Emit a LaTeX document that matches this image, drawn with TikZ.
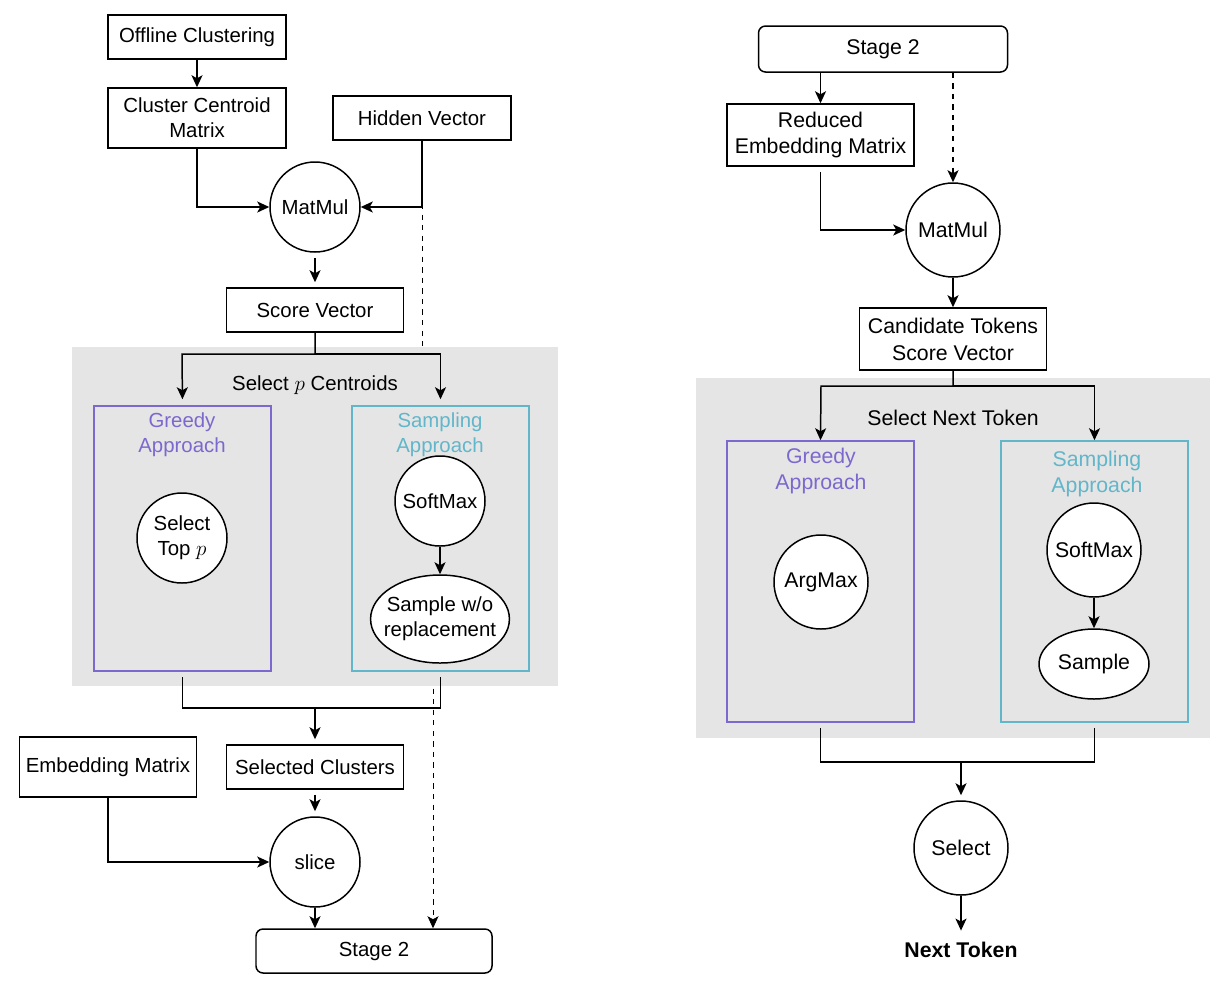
\documentclass[tikz,border=0pt]{standalone}
\usepackage{fontspec}
\setmainfont{Liberation Sans}
\usepackage{tikz}
\usetikzlibrary{arrows.meta,positioning,calc,shapes.geometric,backgrounds}
\usepackage{xcolor}
\definecolor{greedyc}{RGB}{125,104,206}
\definecolor{samplec}{RGB}{98,182,202}
\definecolor{panelc}{RGB}{229,229,229}
\newcommand{\fntL}{\fontsize{11.6}{14.2}\selectfont}
\newcommand{\fntR}{\fontsize{12.1}{15.3}\selectfont}

\begin{document}
\begin{tikzpicture}[
  x=0.2mm, y=-0.2mm,
  >={Stealth[length=2.4mm,width=2.2mm,inset=0.6mm]},
  line width=0.85pt,
  box/.style={draw, fill=white, align=center, inner sep=0pt,
              minimum width=35.6mm, minimum height=8.8mm},
  stagebox/.style={box, rounded corners=4pt},
  op/.style={draw, circle, fill=white, align=center, inner sep=0pt,
             minimum size=18mm},
  oval/.style={draw, ellipse, fill=white, align=center, inner sep=0pt},
  greedybox/.style={draw=greedyc, minimum width=35.4mm, minimum height=53mm},
  samplebox/.style={draw=samplec, minimum width=35.4mm, minimum height=53mm},
  panel/.style={fill=panelc, inner sep=0pt},
  every node/.style={font=\fntL}
]
  \useasboundingbox (0,0) rectangle (1231,988);
  %% Stage 1 (left)
  \node[box] (offc) at (197,37) {Offline Clustering};
  \node[box, minimum height=12mm] (cent) at (197,118) {Cluster Centroid\\Matrix};
  \node[box] (hid) at (422,118) {Hidden Vector};
  \node[op] (mm1) at (315,207) {MatMul};
  \node[box, minimum width=35.4mm] (score) at (315,310) {Score Vector};
  \node[greedybox] (ga) at (182.5,538.5) {};
  \node[samplebox] (sa) at (440.5,538.5) {};
  \node[text=greedyc, align=center] at (182,435) {Greedy\\Approach};
  \node[text=samplec, align=center] at (440,435) {Sampling\\Approach};
  \node at (315,385) {Select $p$ Centroids};
  \node[op] (topp) at (182,538) {Select\\Top $p$};
  \node[op] (soft1) at (440,501) {SoftMax};
  \node[oval, inner xsep=-1.4mm, minimum height=17.6mm] (swo) at (440,619)
    {Sample w/o\\replacement};
  \node[box, minimum width=35.4mm] (sel) at (315,767) {Selected Clusters};
  \node[box, minimum width=35.4mm, minimum height=12mm] (emb) at (108,767)
    {Embedding Matrix};
  \node[op] (slice) at (315,862) {slice};
  \node[stagebox, minimum width=47.2mm] (st2a) at (374,951) {Stage 2};
  \coordinate (j1) at (315,708);
  \coordinate (dj) at (433,680);

  \draw[->] (offc) -- (cent);
  \draw[->] (cent.south) |- (mm1.west);
  \draw[->] (hid.south) |- (mm1.east);
  \draw[->, shorten <=1mm, shorten >=1mm] (mm1) -- (score);
  \draw[->, shorten >=1.2mm] (score.south) |- (182,354) -- (ga.north);
  \draw[->, shorten >=1.2mm] (315,354) -| (sa.north);
  \draw[->] (soft1) -- (swo);
  \draw ([yshift=-3pt]ga.south) |- (j1) -| ([yshift=-3pt]sa.south);
  \draw[->, shorten >=1mm] (j1) -- (sel.north);
  \draw[->, shorten <=1mm, shorten >=1mm] (sel) -- (slice);
  \draw[->] (emb.south) |- (slice.west);
  \draw[->] (slice) -- (st2a.north -| slice);

  %% Stage 2 (right)
  \begin{scope}[every node/.style={font=\fntR}]
  \node[stagebox, minimum width=49.8mm, minimum height=9.2mm] (st2b) at (883,49) {Stage 2};
  \node[box, minimum width=37.4mm, minimum height=12.4mm] (red) at (820.5,135)
    {Reduced\\Embedding Matrix};
  \node[op, minimum size=18.8mm] (mm2) at (953,230) {MatMul};
  \node[box, minimum width=37.4mm, minimum height=12.4mm] (cand) at (953,339)
    {Candidate Tokens\\Score Vector};
  \node[greedybox, minimum width=37.4mm, minimum height=56.2mm] (gb) at (820.5,581.5) {};
  \node[samplebox, minimum width=37.4mm, minimum height=56.2mm] (sb) at (1094.5,581.5) {};
  \node[text=greedyc, align=center] at (821,471) {Greedy\\Approach};
  \node[text=samplec, align=center] at (1097,474) {Sampling\\Approach};
  \node at (953,418) {Select Next Token};
  \node[op, minimum size=18.8mm] (argm) at (821,582) {ArgMax};
  \node[op, minimum size=18.8mm] (soft2) at (1094,550) {SoftMax};
  \node[oval, minimum width=22mm, minimum height=14mm] (smp) at (1094,664) {Sample};
  \node[op, minimum size=18.8mm] (pick) at (961,848) {Select};
  \node[font=\fntR\bfseries] (nxt) at (961,950) {Next Token};
  \end{scope}
  \coordinate (j2) at (961,762);

  \draw[->] (st2b.south -| red) -- (red.north);
  \draw[->, dashed] (st2b.south -| mm2) -- (mm2.north);
  \draw[->] ([yshift=-1mm]red.south) |- (mm2.west);
  \draw[->] (mm2) -- (cand);
  \draw[->] (cand.south) |- (821,386) -- (gb.north);
  \draw[->] (953,386) -| (sb.north);
  \draw[->] (soft2) -- (smp);
  \draw ([yshift=-3pt]gb.south) |- (j2) -| ([yshift=-3pt]sb.south);
  \draw[->, shorten >=1mm] (j2) -- (pick.north);
  \draw[->, shorten >=1mm] (pick) -- (nxt.north);

  %% panels behind, dashed skip line under the panel
  \begin{pgfonlayer}{background}
    \draw[->, dashed] (hid.south) |- (dj) -- (dj |- st2a.north);
    \node[panel, minimum width=97.2mm, minimum height=67.8mm] (pan1) at (315,516.5) {};
    \node[panel, minimum width=102.8mm, minimum height=72mm] (pan2) at (953,558) {};
  \end{pgfonlayer}
\end{tikzpicture}
\end{document}
